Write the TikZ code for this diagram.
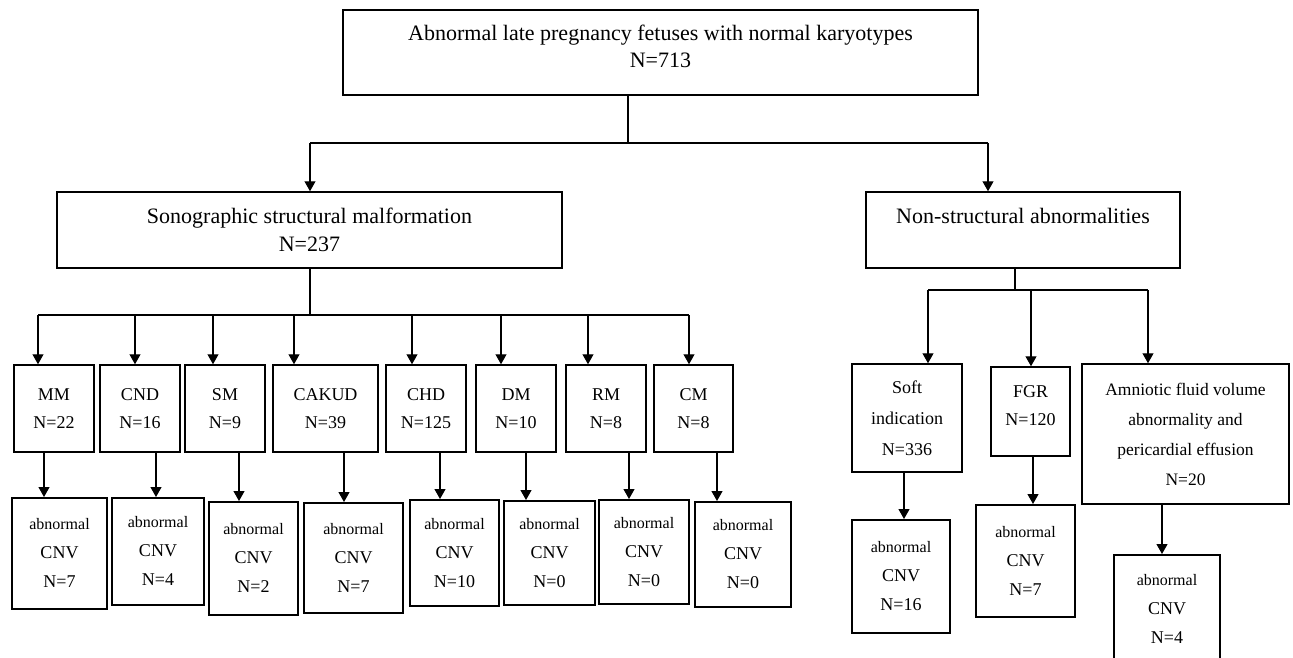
\documentclass[tikz,border=0pt]{standalone}
\usepackage{fontspec}
\setmainfont{Liberation Serif}
\usetikzlibrary{arrows.meta}

\begin{document}
\begin{tikzpicture}[
  x=1pt, y=-1pt,
  cohort/.style={rectangle, draw, line width=1.5pt, align=center,
    font=\fontsize{22}{28}\selectfont},
  subgroup/.style={rectangle, draw, line width=1.5pt, align=center,
    minimum height=87, font=\fontsize{18}{28}\selectfont},
  cnvbox/.style={rectangle, draw, line width=1.5pt, align=center,
    anchor=north, font=\fontsize{18}{29}\selectfont},
  line/.style={line width=1.2pt},
  link/.style={-{Triangle[length=10pt,width=11pt]}, line width=1.2pt}
]
\useasboundingbox (0,0) rectangle (1293,658);
\clip (0,0) rectangle (1293,658);

\node[cohort, minimum width=635, minimum height=85,
  font=\fontsize{22}{27}\selectfont] (top) at (660.5,52.5)
  {Abnormal late pregnancy fetuses with normal karyotypes\\N=713\\[-15pt]\mbox{}};
\node[cohort, minimum width=505, minimum height=76] (sono) at (309.5,230)
  {Sonographic structural malformation\\N=237};
\node[cohort, minimum width=314, minimum height=76] (nons) at (1023,230)
  {Non-structural abnormalities\\\phantom{N=0}};

\coordinate (busA) at (628,143);
\coordinate (aL) at (310,143);
\coordinate (aR) at (988,143);
\draw[line] (top.south -| busA) -- (busA);
\draw[line] (aL) -- (aR);
\draw[link] (aL) -- (aL |- sono.north);
\draw[link] (aR) -- (aR |- nons.north);

\foreach \i/\lab/\num/\cx/\w/\bx/\bw/\by/\bh/\c/\ua/\da in {
  1/MM/22/54/80/59.5/95/497/111/7/38/44,
  2/CND/16/140/80/158/92/497/107/4/135/156,
  3/SM/9/225/80/253.5/89/501/113/2/213/239,
  4/CAKUD/39/325.5/105/353.5/99/502/110/7/294/344,
  5/CHD/125/426/80/454.5/89/499/106/10/412/440,
  6/DM/10/516/80/549.5/91/500/104/0/501/526,
  7/RM/8/606/80/644/90/499/104/0/588/629,
  8/CM/8/693.5/79/743/96/501/105/0/689/717}
{
  \node[subgroup, minimum width=\w] (s\i) at (\cx,408.5) {\lab\\N=\num};
  \node[cnvbox, minimum width=\bw, minimum height=\bh] (c\i) at (\bx,\by)
    {{\fontsize{16}{29}\selectfont abnormal}\\CNV\\N=\c};
  \coordinate (u\i) at (\ua,315);
  \coordinate (d\i) at (\da,452);
  \draw[link] (u\i) -- (u\i |- s\i.north);
  \draw[link] (s\i.south -| d\i) -- (c\i.north -| d\i);
}
\coordinate (busB) at (310,315);
\draw[line] (sono.south -| busB) -- (busB);
\draw[line] (u1) -- (u8);

\node[subgroup, minimum width=110, minimum height=108,
  font=\fontsize{18}{31}\selectfont] (soft) at (907,418)
  {Soft\\indication\\N=336};
\node[subgroup, minimum width=79, minimum height=89] (fgr) at (1030.5,411.5)
  {FGR\\N=120\\[-16pt]\mbox{}};
\node[subgroup, minimum width=207, minimum height=140,
  font=\fontsize{17.5}{30}\selectfont] (amn) at (1185.5,434)
  {Amniotic fluid volume\\abnormality and\\pericardial effusion\\N=20};

\node[cnvbox, minimum width=98, minimum height=113] (softc) at (901,519)
  {{\fontsize{16}{29}\selectfont abnormal}\\CNV\\N=16};
\node[cnvbox, minimum width=99, minimum height=112] (fgrc) at (1025.5,504)
  {{\fontsize{16}{29}\selectfont abnormal}\\CNV\\N=7};
\node[cnvbox, minimum width=106, minimum height=108] (amnc) at (1167,554)
  {{\fontsize{16}{30}\selectfont abnormal}\\CNV\\N=4};

\coordinate (busC) at (1015,290);
\coordinate (v1) at (928,290);
\coordinate (v2) at (1031,290);
\coordinate (v3) at (1148,290);
\draw[line] (nons.south -| busC) -- (busC);
\draw[line] (v1) -- (v3);
\draw[link] (v1) -- (v1 |- soft.north);
\draw[link] (v2) -- (v2 |- fgr.north);
\draw[link] (v3) -- (v3 |- amn.north);

\coordinate (w1) at (904,472);
\coordinate (w2) at (1033,456);
\coordinate (w3) at (1162,504);
\draw[link] (soft.south -| w1) -- (softc.north -| w1);
\draw[link] (fgr.south -| w2) -- (fgrc.north -| w2);
\draw[link] (amn.south -| w3) -- (amnc.north -| w3);
\end{tikzpicture}
\end{document}
